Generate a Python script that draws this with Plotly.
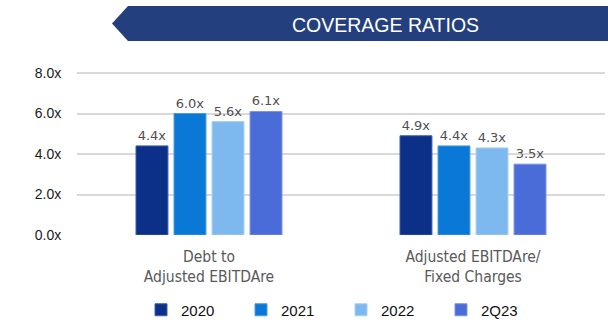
import plotly.graph_objects as go

categories = ["Debt to<br>Adjusted EBITDAre", "Adjusted EBITDAre/<br>Fixed Charges"]
series_names = ["2020", "2021", "2022", "2Q23"]
values_2020 = [4.4, 4.9]
values_2021 = [6.0, 4.4]
values_2022 = [5.6, 4.3]
values_2q23 = [6.1, 3.5]
series_values = [values_2020, values_2021, values_2022, values_2q23]
colors = ["#0C3088", "#0A78D6", "#7DB9EE", "#4A6CD8"]
edge_colors = ["#3D5FAE", "#4A9BE3", "#A9D0F3", "#7B93E2"]
y_ticks = [0, 2, 4, 6, 8]

W, H = 608, 333
ML, MR, MT, MB = 77, 3, 60, 98
PW = W - ML - MR
PH = H - MT - MB

def px(x):
    return (x - ML) / PW

def py(y):
    return (H - MB - y) / PH

fig = go.Figure()
for name, vals, c, ec in zip(series_names, series_values, colors, edge_colors):
    fig.add_trace(go.Bar(
        x=categories, y=vals, name=name,
        marker=dict(color=c, line=dict(color=ec, width=1)),
        text=[f"{v:.1f}x" for v in vals], textposition="outside",
        textfont=dict(size=13, color="#505050", family="DejaVu Sans"),
        cliponaxis=False,
    ))

# banner
bx0, bnotch, by0, by1, bpt = 112, 128, 6, 41, 23.5
path = (f"M {px(bx0)} {py(bpt)} L {px(bnotch)} {py(by0)} L {px(W)} {py(by0)} "
        f"L {px(W)} {py(by1)} L {px(bnotch)} {py(by1)} Z")
fig.add_shape(type="path", path=path, xref="paper", yref="paper",
              fillcolor="#243F7E", line=dict(width=0), layer="above")

fig.add_annotation(text="COVERAGE RATIOS", xref="paper", yref="paper",
                   x=px(385), y=py(25), showarrow=False,
                   font=dict(size=19.5, color="white", family="Liberation Sans, Arial"),
                   xanchor="center", yanchor="middle")

fig.update_layout(
    width=W, height=H,
    margin=dict(l=ML, r=MR, t=MT, b=MB),
    paper_bgcolor="white", plot_bgcolor="white",
    barmode="group", bargap=0.424, bargroupgap=0.16,
    showlegend=True,
    legend=dict(orientation="h", x=px(141), y=py(310), xanchor="left", yanchor="middle",
                entrywidth=55, entrywidthmode="pixels",
                font=dict(size=15, color="#111111", family="Liberation Sans, Arial"),
                itemclick=False),
    xaxis=dict(range=[-0.5, 1.5], showgrid=False, zeroline=False, showline=False,
               ticks="outside", ticklen=7, tickcolor="rgba(0,0,0,0)",
               tickfont=dict(size=15.5, color="#595959", family="DejaVu Sans Condensed, DejaVu Sans")),
    yaxis=dict(range=[0, 8 * PH / 162], tickvals=y_ticks, ticktext=[f"{t:.1f}x" for t in y_ticks],
               showgrid=True, gridcolor="#D9D9D9", gridwidth=1.5, zeroline=False,
               ticks="outside", ticklen=12, tickcolor="rgba(0,0,0,0)",
               tickfont=dict(size=14, color="#1A1A1A", family="Liberation Sans, Arial")),
)

fig.write_html("out.html")
